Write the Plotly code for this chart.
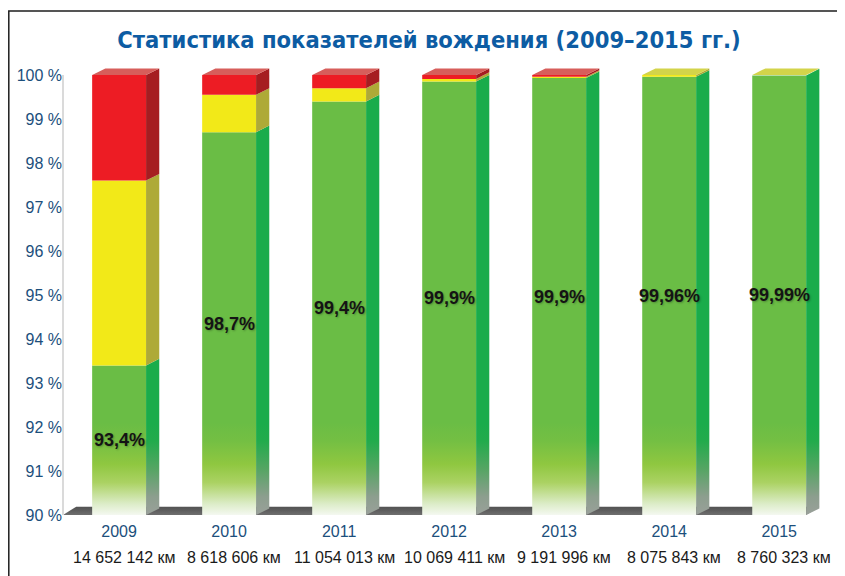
import plotly.graph_objects as go

# ---------------- data ----------------
years = ["2009", "2010", "2011", "2012", "2013", "2014", "2015"]
distance_km = ["14 652 142 км", "8 618 606 км", "11 054 013 км", "10 069 411 км",
               "9 191 996 км", "8 075 843 км", "8 760 323 км"]
green_pct = [93.4, 98.7, 99.4, 99.85, 99.93, 99.96, 99.99]
yellow_pct = [4.2, 0.85, 0.3, 0.06, 0.03, 0.04, 0.01]
red_pct = [2.4, 0.45, 0.3, 0.09, 0.04, 0.0, 0.0]
green_labels = ["93,4%", "98,7%", "99,4%", "99,9%", "99,9%", "99,96%", "99,99%"]
y_tick_values = [90, 91, 92, 93, 94, 95, 96, 97, 98, 99, 100]
y_tick_labels = ["90 %", "91 %", "92 %", "93 %", "94 %", "95 %", "96 %",
                 "97 %", "98 %", "99 %", "100 %"]
title_text = "Статистика показателей вождения (2009–2015 гг.)"

# ---------------- style / geometry ----------------
# page has an 8px body margin, so the figure is sized/positioned to compensate
FIG_W, FIG_H = 837, 568
Y_MIN, Y_MAX = 90, 100.25
X_MIN, X_MAX = -0.51, 6.58
HALF_W = 0.245       # half width of front face (x units)
DX, DY = 0.12, 0.15  # 3D depth offsets (x units, y units)
FLOOR_DY = 0.19

FRONT = {"green": None, "yellow": "#f2e918", "red": "#ed1c24"}
SIDE = {"green": None, "yellow": "#aeaa37", "red": "#a61d21"}
TOP = {"yellow": "#d3d44a", "red": "#d75e5b"}

green_front_grad = dict(type="vertical", start=90, stop=92.1,
                        colorscale=[[0, "#f4f8f0"], [0.12, "#dcecc8"],
                                    [0.35, "#abd263"], [0.55, "#8fc740"],
                                    [0.8, "#74bf43"], [1, "#6abd45"]])
green_side_grad = dict(type="vertical", start=90, stop=92.1,
                       colorscale=[[0, "#9aa09a"], [0.2, "#8c9e8e"],
                                   [0.5, "#55a563"], [0.8, "#22ab4c"],
                                   [1, "#1aac4b"]])
floor_grad = dict(type="vertical", start=90, stop=90 + FLOOR_DY,
                  colorscale=[[0, "#6e6e6e"], [0.6, "#5c5c5c"], [1, "#525252"]])


def add_poly(fig, xs, ys, color=None, gradient=None):
    kw = dict(x=xs, y=ys, mode="lines", line=dict(width=0), fill="toself",
              hoverinfo="skip", showlegend=False)
    if gradient is not None:
        kw["fillgradient"] = gradient
        kw["fillcolor"] = "#6abd45"
    else:
        kw["fillcolor"] = color
    fig.add_trace(go.Scatter(**kw))


fig = go.Figure()

# floor (drawn first, behind the bars)
last_right = (len(years) - 1) + HALF_W
add_poly(fig, [X_MIN, last_right, last_right + DX, X_MIN + DX, X_MIN],
         [Y_MIN, Y_MIN, Y_MIN + FLOOR_DY, Y_MIN + FLOOR_DY, Y_MIN], gradient=floor_grad)

for i, (g, yv, r) in enumerate(zip(green_pct, yellow_pct, red_pct)):
    segs = [("green", Y_MIN, g), ("yellow", g, g + yv), ("red", g + yv, g + yv + r)]
    segs = [s for s in segs if s[2] - s[1] > 0]
    xl, xr = i - HALF_W, i + HALF_W
    for name, b, t in segs:
        add_poly(fig, [xl, xr, xr, xl, xl], [b, b, t, t, b],
                 color=FRONT[name],
                 gradient=green_front_grad if name == "green" else None)
        add_poly(fig, [xr, xr + DX, xr + DX, xr, xr],
                 [b, b + DY, t + DY, t, b],
                 color=SIDE[name],
                 gradient=green_side_grad if name == "green" else None)
    top_name, _, top_val = segs[-1]
    add_poly(fig, [xl, xr, xr + DX, xl + DX, xl],
             [top_val, top_val, top_val + DY, top_val + DY, top_val],
             color=TOP.get(top_name, "#8cc63f"))

# value labels in the middle of the green segment
for i, (g, lab) in enumerate(zip(green_pct, green_labels)):
    fig.add_annotation(x=i, y=(Y_MIN + g) / 2, xref="x", yref="y", text=f"<b>{lab}</b>",
                       showarrow=False, xanchor="center", yanchor="middle",
                       font=dict(family="Liberation Sans, Arial, sans-serif", size=18,
                                 color="#141414", shadow="1px 1px 2px rgba(0,0,0,0.25)"))

# distance labels under the years
for i, km in enumerate(distance_km):
    fig.add_annotation(x=i, y=0, xref="x", yref="paper", yshift=-42, xshift=5, text=km,
                       showarrow=False, xanchor="center", yanchor="middle",
                       font=dict(family="Liberation Sans, Arial, sans-serif", size=16,
                                 color="#1a1a1a"))

# left axis line
fig.add_shape(type="line", xref="paper", yref="y", x0=0, x1=0, y0=Y_MIN, y1=100,
              line=dict(color="#dadada", width=2))
# outer frame (cut off at right/bottom)
plot_w = FIG_W - 55 - 2
plot_h = FIG_H - 56 - 61
fig.add_shape(type="rect", xref="paper", yref="paper",
              x0=(0.8 - 55) / plot_w, x1=1.2,
              y0=-0.3, y1=(FIG_H - 61 - 3) / plot_h,
              line=dict(color="#1e1e1e", width=1.5),
              fillcolor="rgba(0,0,0,0)", layer="below")

fig.update_layout(
    width=FIG_W, height=FIG_H,
    margin=dict(l=55, r=2, t=56, b=61),
    paper_bgcolor="white", plot_bgcolor="white",
    title=dict(text=f"<b>{title_text}</b>", x=421 / FIG_W, xref="container",
               y=1 - 32 / FIG_H, yref="container", xanchor="center", yanchor="middle",
               font=dict(family="Liberation Sans Narrow, DejaVu Sans Condensed, Arial Narrow, sans-serif",
                         size=23.5, color="#0d5ca3")),
    xaxis=dict(range=[X_MIN, X_MAX], tickvals=list(range(len(years))), ticktext=years,
               showgrid=False, zeroline=False, showline=False, ticks="",
               ticklabelstandoff=5,
               tickfont=dict(family="Liberation Sans, Arial, sans-serif", size=16,
                             color="#1c4f7c"), fixedrange=True),
    yaxis=dict(range=[Y_MIN, Y_MAX], tickvals=y_tick_values, ticktext=y_tick_labels,
               showgrid=False, zeroline=False, showline=False, ticks="",
               tickfont=dict(family="Liberation Sans, Arial, sans-serif", size=16,
                             color="#1c4f7c"), fixedrange=True),
)

fig.write_html("out.html")
